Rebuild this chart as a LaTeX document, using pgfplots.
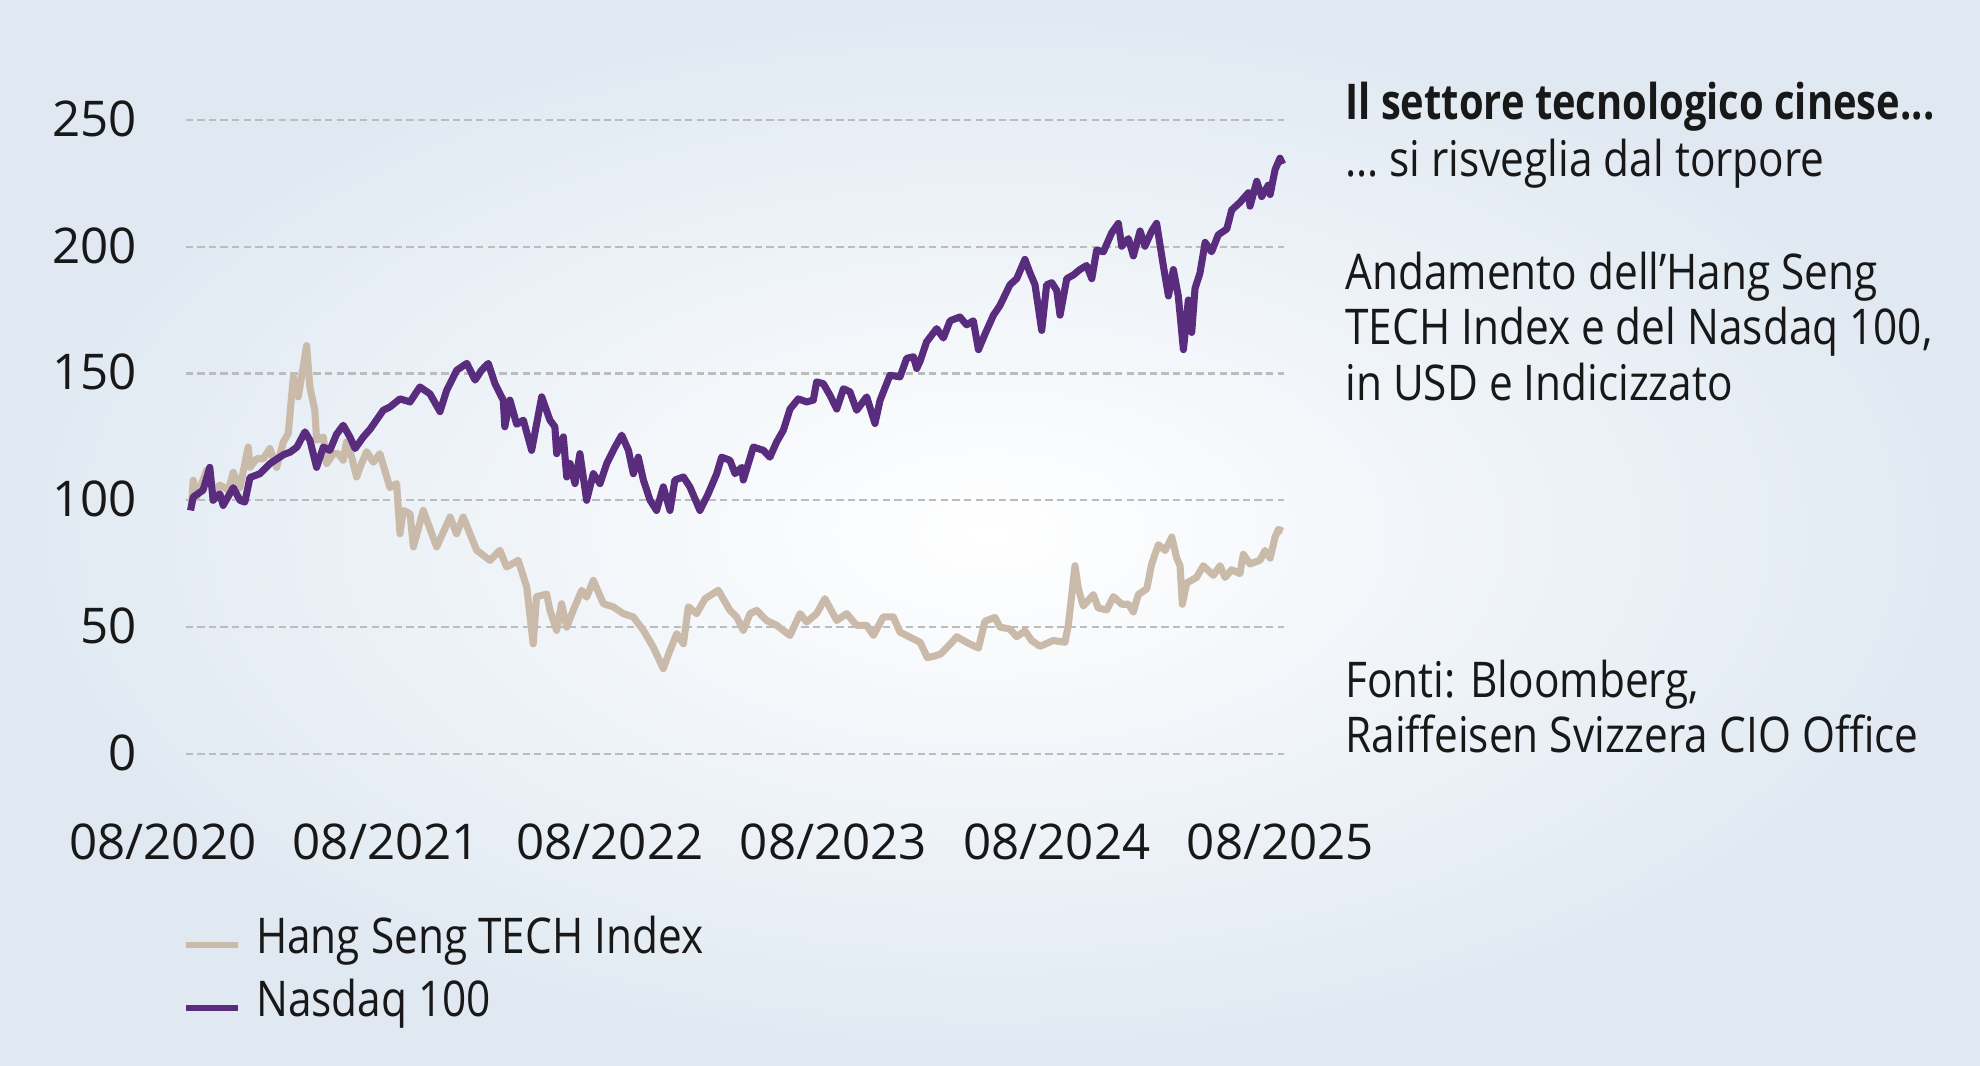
\documentclass[border=0pt]{standalone}
\usepackage{fontspec}
\setmainfont{Open Sans}[FakeStretch=0.86, BoldFeatures={FakeStretch=0.81}]
\newfontfamily\tickfont{Open Sans}
\usepackage{pgfplots}
\pgfplotsset{compat=1.18}
\definecolor{nasdaq}{RGB}{90,44,125}
\definecolor{hstech}{RGB}{201,186,170}
\definecolor{gridc}{RGB}{188,188,188}
\definecolor{bgout}{RGB}{224,233,242}
\definecolor{txt}{RGB}{24,24,24}
\begin{document}
\begin{tikzpicture}[font=\fontsize{19.5bp}{24bp}\selectfont, text=txt]
\shade[inner color=white, outer color=bgout] (0,0) rectangle (784bp,422bp);
\useasboundingbox (0,0) rectangle (784bp,422bp);
\begin{axis}[
  at={(73.5bp,123.5bp)}, anchor=south west,
  scale only axis, width=435bp, height=251bp,
  xmin=0.102, xmax=5.017, ymin=0, ymax=250,
  axis line style={draw=none},
  major tick length=0pt,
  ytick={0,50,100,150,200,250},
  xtick={0.102,1,2,3,4,5},
  xticklabels={\hspace*{-18bp}08/2020,08/2021,08/2022,08/2023,08/2024,08/2025},
  /pgf/number format/assume math mode=true,
  tick label style={font=\tickfont\fontsize{19.5bp}{24bp}\selectfont, text=txt},
  yticklabel style={anchor=base east, inner sep=0pt, xshift=-19bp, yshift=-6.5bp},
  xticklabel style={anchor=base, inner sep=0pt, yshift=-42bp},
  ymajorgrids,
  grid style={gridc, line width=0.9bp, dash pattern=on 2.9bp off 1.7bp},
  clip=false,
  legend style={at={(axis description cs:0,0)}, anchor=north west, yshift=-64bp, xshift=-1bp,
    draw=none, fill=none, inner sep=0pt, row sep=8.5bp, column sep=6bp,
    font=\fontsize{19.5bp}{24bp}\selectfont, text=txt,
    nodes={inner sep=0pt, anchor=base west}},
  legend cell align=left,
  legend image code/.code={\draw[#1, line width=2.2bp] (0bp,0.33em) -- (20.5bp,0.33em);},
]
\addplot[hstech, line width=2.8bp, line join=round] coordinates {
(0.129,98.7) (0.136,107.9) (0.151,101.3) (0.196,111.8) (0.226,104) (0.256,106) (0.293,104) (0.315,111)
(0.345,105) (0.382,121) (0.39,113) (0.42,116.4) (0.45,116.4) (0.479,120.4) (0.509,113) (0.539,123)
(0.561,126.3) (0.584,148.7) (0.606,140.8) (0.628,152.6) (0.643,161) (0.658,144.7) (0.68,135.5) (0.688,123.7)
(0.718,125) (0.733,114.5) (0.763,118.4) (0.785,118.4) (0.807,115.8) (0.822,123) (0.845,117) (0.867,109.2)
(0.889,114.5) (0.912,119.2) (0.942,115) (0.971,118.4) (1.016,105) (1.046,106.6) (1.061,86.8) (1.076,96)
(1.106,94.7) (1.121,81.6) (1.165,96) (1.225,81.6) (1.285,93.4) (1.314,86.8) (1.344,93.4) (1.404,80.3)
(1.464,76.3) (1.508,80.3) (1.538,73.7) (1.59,76.3) (1.628,65.8) (1.657,43.4) (1.672,62) (1.717,63)
(1.732,56.6) (1.762,48.7) (1.784,59.2) (1.807,50) (1.836,56.6) (1.874,64.5) (1.896,61.8) (1.926,68.4)
(1.971,59.2) (2.015,58) (2.06,55.3) (2.105,54) (2.15,48.7) (2.194,42.1) (2.239,33.6) (2.269,40.8)
(2.299,47.4) (2.329,43.4) (2.351,58) (2.388,55.3) (2.426,61.2) (2.485,64.5) (2.537,56.6) (2.567,54)
(2.597,48.7) (2.627,55.3) (2.657,56.6) (2.701,52.6) (2.746,50.7) (2.806,46.7) (2.851,55.3) (2.88,52)
(2.925,55.3) (2.962,61.2) (3.015,52.6) (3.059,55.3) (3.104,50.7) (3.149,50.7) (3.179,46.7) (3.223,54)
(3.268,54) (3.298,48) (3.343,46) (3.388,44) (3.42,38) (3.45,38.5) (3.48,39.4) (3.522,43.2)
(3.552,46.2) (3.596,44) (3.649,41.7) (3.678,52.3) (3.723,53.8) (3.745,50) (3.79,49.2) (3.82,46.2)
(3.857,48.5) (3.887,44.7) (3.924,42.4) (3.984,44.7) (4.036,44) (4.051,50.8) (4.081,74.2) (4.096,65.1)
(4.118,58.3) (4.163,62.8) (4.185,57.5) (4.223,56.8) (4.253,62) (4.29,59) (4.32,59) (4.342,56)
(4.364,62.8) (4.402,65.1) (4.424,74.9) (4.454,82.5) (4.484,80.2) (4.514,85.5) (4.536,77.2) (4.551,74.2)
(4.561,59) (4.581,67.4) (4.625,69.6) (4.655,74.2) (4.7,70.4) (4.73,74.2) (4.752,69.6) (4.782,72.6)
(4.819,71.1) (4.834,78.7) (4.864,74.9) (4.909,76.4) (4.931,80.2) (4.954,77.2) (4.976,85.5) (4.991,88.5)
(5.01,87.8)
};
\addlegendentry{Hang Seng TECH Index}
\addplot[nasdaq, line width=2.8bp, line join=round] coordinates {
(0.124,96) (0.136,101.3) (0.18,104) (0.21,113) (0.225,100) (0.255,102.6) (0.27,98) (0.315,105)
(0.345,100) (0.367,99.3) (0.39,109) (0.435,110.5) (0.48,114.5) (0.54,118) (0.57,119) (0.6,121)
(0.636,127) (0.658,123.7) (0.688,113) (0.718,121) (0.747,119.7) (0.777,126) (0.807,129.6) (0.837,125)
(0.86,120.4) (0.897,125) (0.927,128) (0.986,135.5) (1.016,136.8) (1.061,140) (1.106,138.8) (1.15,144.7)
(1.195,142) (1.24,135) (1.27,143.4) (1.315,151.3) (1.36,154) (1.397,147.4) (1.426,151.3) (1.456,154)
(1.486,146) (1.523,139.5) (1.53,129) (1.553,139.5) (1.583,130) (1.613,131.6) (1.65,119.7) (1.695,140.8)
(1.732,131.6) (1.754,129) (1.762,118.4) (1.792,125) (1.807,109.2) (1.822,114.5) (1.844,106.6) (1.866,118.4)
(1.896,100) (1.926,110.5) (1.956,106.6) (1.986,114.5) (2.023,121) (2.053,125.7) (2.083,119.7) (2.105,110.5)
(2.127,117) (2.15,108) (2.18,100) (2.209,96) (2.239,105.3) (2.269,96) (2.291,108) (2.329,109.2)
(2.358,105.3) (2.403,96) (2.44,102.6) (2.478,110.5) (2.5,117) (2.537,115.8) (2.56,110.5) (2.59,113)
(2.597,108) (2.642,121) (2.687,119.7) (2.716,117) (2.746,123) (2.776,127.6) (2.806,136) (2.843,140)
(2.88,138.8) (2.91,139.5) (2.925,146.7) (2.955,146) (2.985,141.4) (3.015,136) (3.045,144) (3.074,142.8)
(3.104,135.5) (3.149,140.8) (3.186,130.3) (3.209,139.5) (3.253,149.3) (3.298,148.7) (3.328,156) (3.358,156.6)
(3.373,152) (3.388,154.9) (3.417,162.5) (3.462,167.7) (3.492,164) (3.522,170.8) (3.566,172.3) (3.596,169.2)
(3.626,170.8) (3.649,159.4) (3.678,165.5) (3.716,173) (3.745,176.8) (3.79,185) (3.82,187.4) (3.857,195)
(3.88,189.6) (3.902,185) (3.932,167) (3.954,185) (3.977,185.8) (3.999,182.8) (4.014,173) (4.044,187.4)
(4.074,188.9) (4.103,191) (4.133,192.6) (4.156,187.4) (4.178,198.7) (4.208,198) (4.245,205.5) (4.275,209.2)
(4.29,200.2) (4.32,203.2) (4.342,196.4) (4.372,206.2) (4.394,200.2) (4.424,206.2) (4.446,209.2) (4.476,192.6)
(4.499,180.6) (4.521,191) (4.543,180.6) (4.566,159.4) (4.588,179) (4.603,166.2) (4.618,183.6) (4.64,189.6)
(4.663,201.7) (4.692,198) (4.722,204.7) (4.76,207) (4.782,214.5) (4.819,217.5) (4.857,221.3) (4.864,216)
(4.894,225.8) (4.916,219.8) (4.946,224.3) (4.954,220.6) (4.976,230.4) (4.998,234.9) (5.01,232.6)
};
\addlegendentry{Nasdaq 100}
\end{axis}
\node[anchor=base west, inner sep=0pt] at (532.5bp,374.5bp) {\bfseries Il settore tecnologico cinese...};
\node[anchor=base west, inner sep=0pt] at (532.5bp,352bp) {… si risveglia dal torpore};
\node[anchor=base west, inner sep=0pt] at (532.5bp,307.5bp) {Andamento dell’Hang Seng};
\node[anchor=base west, inner sep=0pt] at (532.5bp,285.5bp) {TECH Index e del Nasdaq 100,};
\node[anchor=base west, inner sep=0pt] at (532.5bp,263.5bp) {in USD e Indicizzato};
\node[anchor=base west, inner sep=0pt] at (532.5bp,146bp) {Fonti: Bloomberg,};
\node[anchor=base west, inner sep=0pt] at (532.5bp,124bp) {Raiffeisen Svizzera CIO Office};
\end{tikzpicture}
\end{document}
